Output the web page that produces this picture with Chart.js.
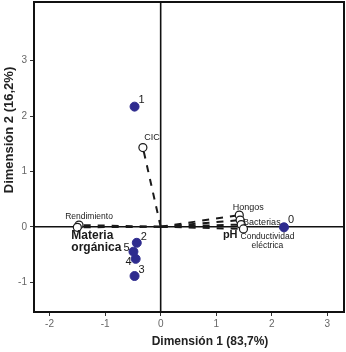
<!DOCTYPE html>
<html>
<head>
<meta charset="utf-8">
<script src="https://cdn.jsdelivr.net/npm/chart.js@4.4.1/dist/chart.umd.min.js"></script>
<style>
html,body{margin:0;padding:0;background:#fff;}
#wrap{width:346px;height:352px;position:relative;}
</style>
</head>
<body>
<div id="wrap"><canvas id="c" width="346" height="352"></canvas></div>
<script>
// ---- data ----
const groupLabels = ["0", "1", "2", "3", "4", "5"];
const groupDim1 = [2.22, -0.47, -0.43, -0.47, -0.45, -0.49];
const groupDim2 = [-0.01, 2.17, -0.29, -0.89, -0.58, -0.45];

const varLabels = ["CIC", "Rendimiento", "Materia orgánica", "Hongos", "Bacterias", "pH", "Conductividad eléctrica"];
const varDim1 = [-0.32, -1.47, -1.50, 1.415, 1.43, 1.45, 1.49];
const varDim2 = [1.43, 0.03, -0.01, 0.21, 0.12, 0.04, -0.04];

const xTicks = [-2, -1, 0, 1, 2, 3];
const yTicks = [-1, 0, 1, 2, 3];
const xTitle = "Dimensión 1 (83,7%)";
const yTitle = "Dimensión 2 (16,2%)";

// ---- label layout (pixel offsets, fonts) ----
const FONT = "'Liberation Sans', Arial, sans-serif";
const groupLabelStyle = {
  "0": {dx: 7, dy: -7, align: "center"},
  "1": {dx: 7, dy: -7, align: "center"},
  "2": {dx: 7, dy: -6, align: "center"},
  "3": {dx: 7, dy: -6, align: "center"},
  "4": {dx: -7, dy: 3, align: "center"},
  "5": {dx: -7, dy: -4, align: "center"}
};
const varLabelStyle = {
  "CIC": {dx: 9, dy: -10, align: "center", font: "9px " + FONT},
  "Rendimiento": {dx: 10, dy: -8, align: "center", font: "8.5px " + FONT},
  "Materia orgánica": {dx: -6, dy: 8, align: "left", font: "bold 12px " + FONT, lines: ["Materia", "orgánica"], lh: 12.5},
  "Hongos": {dx: 9, dy: -8, align: "center", font: "9px " + FONT},
  "Bacterias": {dx: 3, dy: 2, align: "left", font: "9px " + FONT},
  "pH": {dx: -11, dy: 10, align: "center", font: "bold 11px " + FONT},
  "Conductividad eléctrica": {dx: 24, dy: 8, align: "center", font: "8.5px " + FONT, lines: ["Conductividad", "eléctrica"], lh: 8.5}
};

const groupPts = groupLabels.map((l, i) => ({x: groupDim1[i], y: groupDim2[i]}));
const varPts = varLabels.map((l, i) => ({x: varDim1[i], y: varDim2[i]}));

const lineSets = varLabels.map((l, i) => ({
  type: 'scatter',
  data: [{x: 0, y: 0}, {x: varDim1[i], y: varDim2[i]}],
  showLine: true,
  borderColor: '#1a1a1a',
  borderWidth: 2,
  borderDash: [7, 7],
  pointRadius: 0,
  order: 3
}));

const framePlugin = {
  id: 'frame',
  beforeDatasetsDraw(chart) {
    const {ctx, chartArea: a, scales} = chart;
    ctx.save();
    ctx.strokeStyle = '#111';
    ctx.lineWidth = 1.6;
    const x0 = scales.x.getPixelForValue(0);
    const y0 = scales.y.getPixelForValue(0);
    ctx.beginPath();
    ctx.moveTo(x0, a.top); ctx.lineTo(x0, a.bottom);
    ctx.moveTo(a.left, y0); ctx.lineTo(a.right, y0);
    ctx.stroke();
    ctx.restore();
  },
  afterDraw(chart) {
    const {ctx, chartArea: a} = chart;
    ctx.save();
    ctx.strokeStyle = '#111';
    ctx.lineWidth = 2;
    ctx.strokeRect(a.left, a.top, a.right - a.left, a.bottom - a.top);
    // axis titles
    ctx.fillStyle = '#222';
    ctx.font = "bold 12px " + FONT;
    ctx.textAlign = 'center';
    ctx.textBaseline = 'middle';
    ctx.fillText(xTitle, 210, 342);
    ctx.save();
    ctx.translate(9, 130);
    ctx.rotate(-Math.PI / 2);
    ctx.font = "bold 13px " + FONT;
    ctx.fillText(yTitle, 0, 0);
    ctx.restore();
    ctx.restore();
  }
};

const labelPlugin = {
  id: 'ptLabels',
  afterDatasetsDraw(chart) {
    const {ctx, scales} = chart;
    ctx.save();
    ctx.fillStyle = '#1a1a1a';
    ctx.textBaseline = 'middle';
    groupLabels.forEach((l, i) => {
      const s = groupLabelStyle[l];
      const px = scales.x.getPixelForValue(groupDim1[i]);
      const py = scales.y.getPixelForValue(groupDim2[i]);
      ctx.font = "11px " + FONT;
      ctx.textAlign = s.align;
      ctx.fillText(l, px + s.dx, py + s.dy);
    });
    varLabels.forEach((l, i) => {
      const s = varLabelStyle[l];
      const px = scales.x.getPixelForValue(varDim1[i]);
      const py = scales.y.getPixelForValue(varDim2[i]);
      ctx.font = s.font;
      ctx.textAlign = s.align;
      const lines = s.lines || [l];
      lines.forEach((t, k) => ctx.fillText(t, px + s.dx, py + s.dy + k * (s.lh || 0)));
    });
    ctx.restore();
  }
};

new Chart(document.getElementById('c'), {
  type: 'scatter',
  data: {
    datasets: [
      ...lineSets,
      {
        data: varPts,
        pointRadius: 4,
        pointBackgroundColor: '#ffffff',
        pointBorderColor: '#1a1a1a',
        pointBorderWidth: 1.2,
        order: 2
      },
      {
        data: groupPts,
        pointRadius: 4.5,
        pointBackgroundColor: '#2e2b8e',
        pointBorderColor: '#2e2b8e',
        pointBorderWidth: 1,
        order: 1
      }
    ]
  },
  options: {
    responsive: false,
    animation: false,
    devicePixelRatio: 1,
    layout: {autoPadding: false, padding: {top: 2, right: 2, left: 0, bottom: 0}},
    plugins: {legend: {display: false}, tooltip: {enabled: false}},
    scales: {
      x: {
        type: 'linear',
        min: -2.28, max: 3.30,
        afterFit(s) { s.height = 40; s.paddingLeft = 0; s.paddingRight = 0; },
        afterBuildTicks(s) { s.ticks = xTicks.map(v => ({value: v})); },
        grid: {drawOnChartArea: false, drawTicks: true, tickLength: 4, tickColor: '#333', tickWidth: 1},
        border: {display: true, color: '#111', width: 2},
        ticks: {color: '#666', font: {family: FONT, size: 10}, padding: 2, callback: v => String(v)}
      },
      y: {
        type: 'linear',
        min: -1.54, max: 4.06,
        afterFit(s) { s.width = 34; s.paddingTop = 0; s.paddingBottom = 0; },
        afterBuildTicks(s) { s.ticks = yTicks.map(v => ({value: v})); },
        grid: {drawOnChartArea: false, drawTicks: true, tickLength: 4, tickColor: '#333', tickWidth: 1},
        border: {display: true, color: '#111', width: 2},
        ticks: {color: '#666', font: {family: FONT, size: 10}, padding: 3, callback: v => String(v)}
      }
    }
  },
  plugins: [framePlugin, labelPlugin]
});
</script>
</body>
</html>
